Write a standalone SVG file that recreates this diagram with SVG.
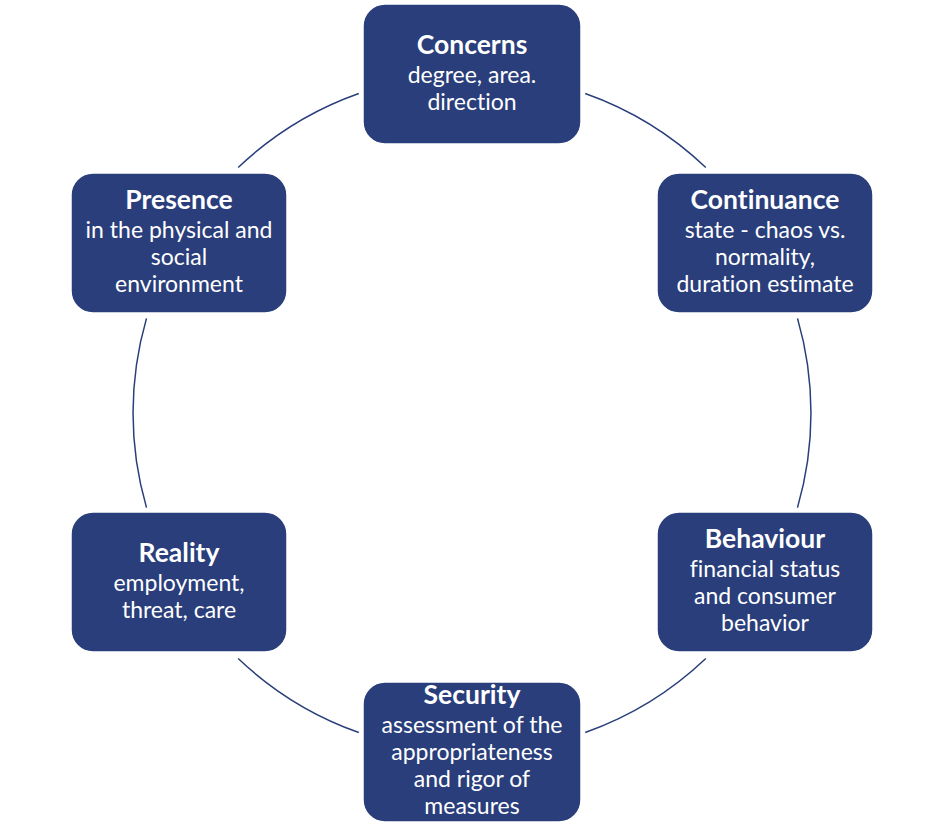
<svg xmlns="http://www.w3.org/2000/svg" width="944" height="839" viewBox="0 0 944 839">
<style>
.box{fill:#293E7A;stroke:#ffffff;stroke-width:1.5}
.t{font-family:Lato,"Liberation Sans",sans-serif;fill:#ffffff;text-anchor:middle;font-variant-ligatures:none}
.h{font-size:26.5px;font-weight:bold}
.b{font-size:23px}
.arc{fill:none;stroke:#293E7A;stroke-width:1.5}
</style>
<rect width="944" height="839" fill="#ffffff"/>
<g id="connectors">
<path class="arc" d="M585.2,93.5 A339,339 0 0 1 705.8,167.5"/>
<path class="arc" d="M797.5,318.4 A339,339 0 0 1 797.5,507.6"/>
<path class="arc" d="M705.8,658.5 A339,339 0 0 1 585.2,732.5"/>
<path class="arc" d="M358.8,732.5 A339,339 0 0 1 238.2,658.5"/>
<path class="arc" d="M146.5,507.6 A339,339 0 0 1 146.5,318.4"/>
<path class="arc" d="M238.2,167.5 A339,339 0 0 1 358.8,93.5"/>
</g>
<g id="concerns">
<rect class="box" x="363" y="4" width="218" height="140" rx="22"/>
<text class="t h" x="472" y="54">Concerns</text>
<text class="t b" x="472" y="83">degree, area.</text>
<text class="t b" x="472" y="110">direction</text>
</g>
<g id="continuance">
<rect class="box" x="657" y="173" width="216" height="140" rx="22"/>
<text class="t h" x="765" y="209">Continuance</text>
<text class="t b" x="765" y="238">state - chaos vs.</text>
<text class="t b" x="765" y="265">normality,</text>
<text class="t b" x="765" y="292">duration estimate</text>
</g>
<g id="behaviour">
<rect class="box" x="657" y="512" width="216" height="140" rx="22"/>
<text class="t h" x="765" y="548">Behaviour</text>
<text class="t b" x="765" y="577">financial status</text>
<text class="t b" x="765" y="604">and consumer</text>
<text class="t b" x="765" y="631">behavior</text>
</g>
<g id="security">
<rect class="box" x="363" y="682" width="218" height="140" rx="22"/>
<text class="t h" x="472" y="704">Security</text>
<text class="t b" x="472" y="733">assessment of the</text>
<text class="t b" x="472" y="760">appropriateness</text>
<text class="t b" x="472" y="787">and rigor of</text>
<text class="t b" x="472" y="814">measures</text>
</g>
<g id="reality">
<rect class="box" x="71" y="512" width="216" height="140" rx="22"/>
<text class="t h" x="179" y="562">Reality</text>
<text class="t b" x="179" y="591">employment,</text>
<text class="t b" x="179" y="618">threat, care</text>
</g>
<g id="presence">
<rect class="box" x="71" y="173" width="216" height="140" rx="22"/>
<text class="t h" x="179" y="209">Presence</text>
<text class="t b" x="179" y="238">in the physical and</text>
<text class="t b" x="179" y="265">social</text>
<text class="t b" x="179" y="292">environment</text>
</g>
</svg>
